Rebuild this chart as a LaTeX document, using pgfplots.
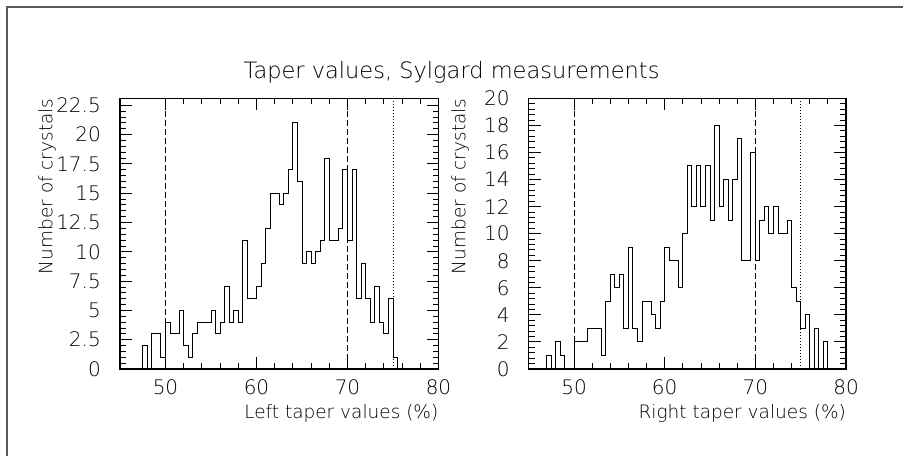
\documentclass[border=0pt]{standalone}
\usepackage{pgfplots}
\usepackage{pgfplotstable}
\pgfplotsset{compat=1.18}
\usepackage{fontspec}
\setmainfont{DejaVu Sans}[UprightFont={* ExtraLight}]

% bin left edge, count (bin width 0.5)
\pgfplotstableread{
x c
45 0
45.5 0
46 0
46.5 0
47 0
47.5 2
48 0
48.5 3
49 3
49.5 1
50 4
50.5 3
51 3
51.5 5
52 2
52.5 1
53 3
53.5 4
54 4
54.5 4
55 5
55.5 3
56 4
56.5 7
57 4
57.5 5
58 4
58.5 11
59 6
59.5 6
60 7
60.5 9
61 12
61.5 15
62 15
62.5 14
63 15
63.5 17
64 21
64.5 16
65 9
65.5 10
66 9
66.5 10
67 11
67.5 18
68 11
68.5 11
69 12
69.5 17
70 11
70.5 17
71 6
71.5 9
72 6
72.5 4
73 7
73.5 4
74 3
74.5 6
75 1
75.5 0
76 0
80 0
}\lefttab

\pgfplotstableread{
x c
45 0
45.5 0
46 0
46.5 0
47 1
47.5 0
48 2
48.5 1
49 0
49.5 0
50 2
50.5 2
51 2
51.5 3
52 3
52.5 3
53 1
53.5 5
54 7
54.5 6
55 7
55.5 3
56 9
56.5 3
57 2
57.5 5
58 5
58.5 4
59 3
59.5 5
60 9
60.5 8
61 8
61.5 6
62 10
62.5 15
63 12
63.5 15
64 12
64.5 15
65 11
65.5 18
66 12
66.5 14
67 11
67.5 14
68 17
68.5 8
69 8
69.5 16
70 8
70.5 11
71 12
71.5 10
72 12
72.5 10
73 10
73.5 11
74 6
74.5 5
75 3
75.5 4
76 0
76.5 3
77 0
77.5 2
78 0
80 0
}\righttab

\pgfplotsset{
  paw/.style={
    scale only axis, height=270.7bp, anchor=south west,
    xmin=45, xmax=80, xtick={50,60,70,80}, minor x tick num=4,
    minor y tick num=4,
    tick pos=both, xticklabel pos=lower, yticklabel pos=left,
    tick align=inside,
    major tick length=12bp, minor tick length=6bp,
    every tick/.style={line width=0.9bp, black},
    axis line style={line width=1.4bp, black},
    /pgf/number format/assume math mode=true,
    tick label style={font=\fontsize{20bp}{22bp}\selectfont, inner sep=0pt},
    xticklabel style={yshift=-10bp},
    yticklabel style={xshift=-19bp},
    label style={font=\fontsize{18.5bp}{20bp}\selectfont, inner sep=0pt},
    xlabel style={at={(rel axis cs:1,0)}, anchor=north east, yshift=-35bp},
    ylabel={Number of crystals},
    clip=false,
  },
  hist/.style={const plot mark left, no marks, black, line width=1bp},
  vdash/.style={black, line width=0.9bp, dash pattern=on 6bp off 3bp},
  vdot/.style={black, line width=0.9bp, dash pattern=on 1bp off 2bp},
}

\begin{document}
\begin{tikzpicture}
\useasboundingbox (0,0) rectangle (903bp,456bp);
\draw[gray!70!black, line width=1.2bp] (7bp,0) -- (7bp,449bp) -- (903bp,449bp);

\node[font=\fontsize{22.5bp}{24bp}\selectfont, inner sep=0pt] at (451.5bp,384bp) {Taper values, Sylgard measurements};

\begin{axis}[paw, at={(120bp,87bp)}, width=318.5bp,
  ymin=0, ymax=23.1, ytick={0,2.5,5,7.5,10,12.5,15,17.5,20,22.5},
  xlabel={Left taper values (\%)},
  ylabel style={at={([xshift=-73bp]rel axis cs:0,1)}, anchor=east},
]
\addplot[hist] table[x=x,y=c] {\lefttab};
\addplot[vdash] coordinates {(50,0) (50,23.1)};
\addplot[vdash] coordinates {(70,0) (70,23.1)};
\addplot[vdot] coordinates {(75,0) (75,23.1)};
\end{axis}

\begin{axis}[paw, at={(528.7bp,87bp)}, width=317.3bp,
  ymin=0, ymax=20, ytick={0,2,...,20},
  xlabel={Right taper values (\%)},
  ylabel style={at={([xshift=-68.7bp]rel axis cs:0,1)}, anchor=east},
]
\addplot[hist] table[x=x,y=c] {\righttab};
\addplot[vdash] coordinates {(50,0) (50,20)};
\addplot[vdash] coordinates {(70,0) (70,20)};
\addplot[vdot] coordinates {(75,0) (75,20)};
\end{axis}
\end{tikzpicture}
\end{document}
